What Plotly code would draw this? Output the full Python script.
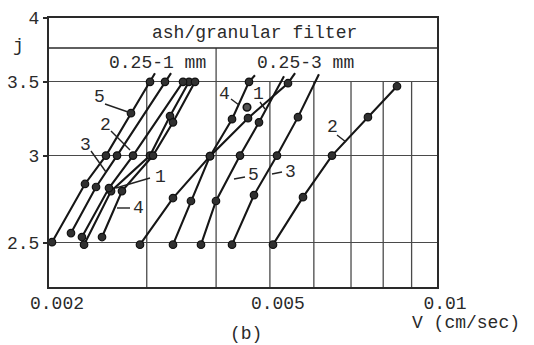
import math
import plotly.graph_objects as go

# ---------------- data ----------------
X_MIN, X_MAX = 0.002, 0.01          # V (cm/sec), log axis
Y_MIN, Y_MAX = 2.279, 4.0           # j, log axis

x_tickvals = [0.002, 0.005, 0.01]
x_ticktext = ["0.002", "0.005", "0.01"]
x_grid = [0.003, 0.004, 0.005, 0.006, 0.007, 0.008, 0.009]
y_tickvals = [2.5, 3, 3.5, 4]
y_ticktext = ["2.5", "3", "3.5", "4"]

# granular filter 0.25-1 mm
fine1_V = [0.002313, 0.002587, 0.003041, 0.003304, 0.003575]
fine1_j = [2.49, 2.785, 3.0, 3.258, 3.5]
fine2_V = [0.002293, 0.002565, 0.002834, 0.003487]
fine2_j = [2.53, 2.803, 3.0, 3.5]
fine3_V = [0.002191, 0.002431, 0.002652, 0.003236]
fine3_j = [2.551, 2.809, 3.0, 3.5]
fine4_V = [0.002492, 0.002707, 0.003079, 0.003345, 0.003665]
fine4_j = [2.53, 2.785, 3.0, 3.216, 3.5]
fine5_V = [0.002025, 0.002322, 0.002533, 0.00281, 0.003041]
fine5_j = [2.503, 2.827, 3.0, 3.278, 3.5]

# granular filter 0.25-3 mm
coarse1_V = [0.003345, 0.003604, 0.0039, 0.004566, 0.00539]
coarse1_j = [2.49, 2.728, 2.996, 3.244, 3.49]
coarse2_V = [0.005065, 0.005736, 0.006469, 0.007509, 0.008471]
coarse2_j = [2.49, 2.75, 3.0, 3.251, 3.468]
coarse3_V = [0.004273, 0.004681, 0.005149, 0.005618]
coarse3_j = [2.49, 2.762, 3.0, 3.251]
coarse4_V = [0.002917, 0.003345, 0.0039, 0.004273, 0.004585]
coarse4_j = [2.49, 2.745, 2.996, 3.237, 3.5]
coarse5_V = [0.003757, 0.003998, 0.004417, 0.004779]
coarse5_j = [2.49, 2.728, 3.0, 3.216]

coarse_extra_V = [0.004547]
coarse_extra_j = [3.319]

# where the drawn straight lines end beyond the last measured point (None = no extension)
fine_tip_V = [None, None, 0.003318, None, 0.003104]
fine_tip_j = [None, None, 3.564, None, 3.564]
coarse_tip_V = [0.00555, None, 0.006128, 0.0047, 0.005301]
coarse_tip_j = [3.564, None, 3.556, 3.549, 3.541]

series_V = [fine1_V, fine2_V, fine3_V, fine4_V, fine5_V,
            coarse1_V, coarse2_V, coarse3_V, coarse4_V, coarse5_V]
series_j = [fine1_j, fine2_j, fine3_j, fine4_j, fine5_j,
            coarse1_j, coarse2_j, coarse3_j, coarse4_j, coarse5_j]
tips_V = fine_tip_V + coarse_tip_V
tips_j = fine_tip_j + coarse_tip_j

# ---------------- layout helpers ----------------
W, H = 534, 345
PL, PR, PT, PB = 49, 437, 18, 287
FONT = "Liberation Mono, Courier New, monospace"
INK = "#2a2a2a"
GRID = "#4a4a4a"


def fx(px):
    return (px - PL) / (PR - PL)


def fy(py):
    return (PB - py) / (PB - PT)


def xd(v):
    return (math.log10(v) - math.log10(X_MIN)) / (math.log10(X_MAX) - math.log10(X_MIN))


def yd(v):
    return (math.log10(v) - math.log10(Y_MIN)) / (math.log10(Y_MAX) - math.log10(Y_MIN))


fig = go.Figure()

for V, j, tv, tj in zip(series_V, series_j, tips_V, tips_j):
    lx, ly = list(V), list(j)
    if tv is not None:
        lx.append(tv)
        ly.append(tj)
    fig.add_trace(go.Scatter(x=lx, y=ly, mode="lines",
                             line=dict(color="#161616", width=2.1),
                             hoverinfo="skip"))
    fig.add_trace(go.Scatter(x=V, y=j, mode="markers",
                             marker=dict(size=7.5, color="#303030",
                                         line=dict(color="#111111", width=1.2))))

fig.add_trace(go.Scatter(x=coarse_extra_V, y=coarse_extra_j, mode="markers",
                         marker=dict(size=7.5, color="#555555",
                                     line=dict(color="#111111", width=1.6))))

axis_common = dict(showline=True, mirror=True, linecolor="#2a2a2a", linewidth=2,
                   zeroline=False, automargin=False,
                   tickfont=dict(family=FONT, size=18, color=INK))

fig.update_xaxes(type="log", range=[math.log10(X_MIN), math.log10(X_MAX)],
                 tickmode="array", tickvals=x_tickvals, ticktext=x_ticktext,
                 ticks="", ticklabelshift=8, ticklabelstandoff=-2, showgrid=False,
                 **axis_common)
fig.update_yaxes(type="log", range=[math.log10(Y_MIN), math.log10(Y_MAX)],
                 tickmode="array", tickvals=y_tickvals, ticktext=y_ticktext,
                 ticks="outside", ticklen=4, tickwidth=1.5, tickcolor="#2a2a2a",
                 showgrid=True, gridcolor=GRID, gridwidth=1.3,
                 **axis_common)

shapes = []
# vertical grid lines: only below the header, except the group divider at 0.004
for v in x_grid:
    top = fy(48) if v == 0.004 else yd(3.5)
    shapes.append(dict(type="line", xref="x domain", yref="y domain",
                       x0=xd(v), x1=xd(v), y0=0, y1=top,
                       line=dict(color=GRID, width=1.3), layer="below"))
# header row separator
shapes.append(dict(type="line", xref="x domain", yref="y domain", x0=0, x1=1,
                   y0=fy(48), y1=fy(48), line=dict(color="#2a2a2a", width=1.6),
                   layer="below"))

# leader lines for curve labels (reference pixel positions)
leaders = [
    ((105, 104), (128, 112)),   # 5 (fine)
    ((111, 131), (130, 150)),   # 2 (fine)
    ((91, 151), (106, 172)),    # 3 (fine)
    ((150, 178), (116, 188)),   # 1 (fine)
    ((117, 208), (130, 208)),   # 4 (fine)
    ((231, 99), (239, 105)),    # 4 (coarse)
    ((260, 102), (265, 109)),   # 1 (coarse)
    ((245, 177), (234, 179)),   # 5 (coarse)
    ((282, 172), (272, 174)),   # 3 (coarse)
    ((337, 135), (346, 142)),   # 2 (coarse)
]
for (a, b) in leaders:
    shapes.append(dict(type="line", xref="x domain", yref="y domain",
                       x0=fx(a[0]), y0=fy(a[1]), x1=fx(b[0]), y1=fy(b[1]),
                       line=dict(color="#222222", width=1.4)))

fig.update_layout(shapes=shapes)

texts = [
    ("ash/granular filter", 254, 33),
    ("0.25-1 mm", 157, 63),
    ("0.25-3 mm", 305, 63),
    ("j", 18, 46),
    ("V (cm/sec)", 466, 323),
    ("(b)", 246, 334),
    ("5", 99, 97), ("2", 105, 125), ("3", 85, 145), ("1", 160, 177), ("4", 138, 208),
    ("4", 224, 94), ("1", 258, 94), ("5", 253, 175), ("3", 290, 172), ("2", 332, 127),
]
for t, px, py in texts:
    fig.add_annotation(text=t, x=fx(px), y=fy(py), xref="paper", yref="paper",
                       showarrow=False, xanchor="center", yanchor="middle",
                       font=dict(family=FONT, size=18, color=INK))

fig.update_layout(width=W, height=H, margin=dict(l=PL, r=W - PR, t=PT, b=H - PB),
                  paper_bgcolor="white", plot_bgcolor="white", showlegend=False,
                  font=dict(family=FONT, size=18, color=INK))

fig.write_html("out.html")
